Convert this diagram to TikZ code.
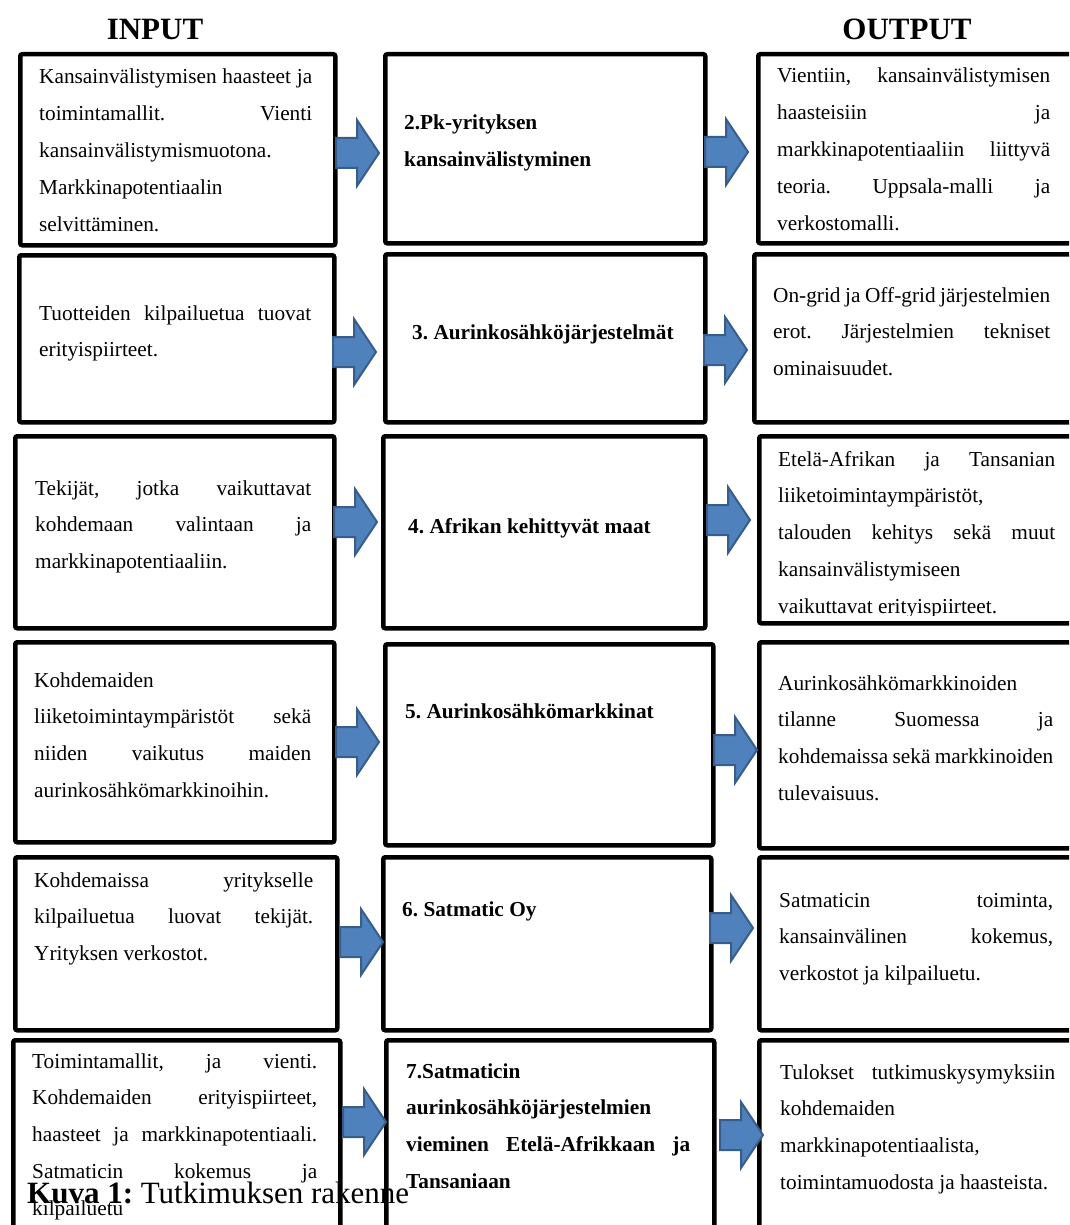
\documentclass[tikz,border=0pt]{standalone}
\usepackage{fontspec}
\setmainfont{Liberation Serif}
\definecolor{arrowfill}{HTML}{4F81BD}
\definecolor{arrowline}{HTML}{385D8A}
\newcommand\jl[1]{{\frenchspacing\spaceskip=0pt\xspaceskip=0pt\makebox[\linewidth][s]{#1}}}
\newcommand\blockarrow[1]{\draw[barrow] (#1) ++(0,-15) -- ++(21,0) -- ++(0,-18) -- ++(22,33) -- ++(-22,33) -- ++(0,-18) -- ++(-21,0) -- cycle;}
\begin{document}
\begin{tikzpicture}[x=1pt,y=-1pt,
  box/.style={draw=black, line width=4.5pt, rounded corners=2pt, anchor=north west, inner sep=0pt},
  txt/.style={anchor=base west, inner sep=0pt, align=left, font=\fontsize{21.3}{36.8}\selectfont,
    execute at begin node={\frenchspacing\spaceskip=0pt\xspaceskip=0pt}},
  btxt/.style={txt, font=\fontsize{21.3}{36.8}\selectfont\bfseries},
  title/.style={anchor=base, inner sep=0pt, font=\fontsize{31}{36}\selectfont\bfseries},
  barrow/.style={fill=arrowfill, draw=arrowline, line width=2pt, line join=miter}
]
\useasboundingbox (0,0) rectangle (1069,1225);
\clip (0,0) rectangle (1069,1225);

% titles
\node[title] (tin) at (155,40) {INPUT};
\node[title] (tout) at (907,40) {OUTPUT};

% boxes
\node[box, minimum width=315, minimum height=191] (L1) at (18,52) {};
\node[box, minimum width=320, minimum height=189] (M1) at (383,52) {};
\node[box, minimum width=319, minimum height=189] (R1) at (756,52) {};

\node[box, minimum width=315, minimum height=167] (L2) at (17,253) {};
\node[box, minimum width=320, minimum height=168] (M2) at (383,252) {};
\node[box, minimum width=323, minimum height=168] (R2) at (752,252) {};

\node[box, minimum width=319, minimum height=192] (L3) at (13,434) {};
\node[box, minimum width=322, minimum height=192] (M3) at (381,434) {};
\node[box, minimum width=318, minimum height=187] (R3) at (757,434) {};

\node[box, minimum width=319, minimum height=200] (L4) at (13,640) {};
\node[box, minimum width=328, minimum height=201] (M4) at (383,642) {};
\node[box, minimum width=318, minimum height=206] (R4) at (757,640) {};

\node[box, minimum width=322, minimum height=173] (L5) at (13,855) {};
\node[box, minimum width=328, minimum height=173] (M5) at (381,855) {};
\node[box, minimum width=318, minimum height=173] (R5) at (757,855) {};

\node[box, minimum width=327, minimum height=200] (L6) at (11,1038) {};
\node[box, minimum width=328, minimum height=200] (M6) at (384,1038) {};
\node[box, minimum width=318, minimum height=200] (R6) at (757,1038) {};

% texts row 1
\node[txt, text width=273] (tL1) at (39,84) {\jl{Kansainvälistymisen haasteet ja}\\ \jl{toimintamallit. Vienti}\\ kansainvälistymismuotona.\\ Markkinapotentiaalin\\ selvittäminen.};
\node[btxt, text width=280] (tM1) at (404,130) {2.Pk-yrityksen\\ kansainvälistyminen};
\node[txt, text width=273] (tR1) at (777,83) {\jl{Vientiin, kansainvälistymisen}\\ \jl{haasteisiin ja}\\ \jl{markkinapotentiaaliin liittyvä}\\ \jl{teoria. Uppsala-malli ja}\\ verkostomalli.};

% row 2
\node[txt, text width=272] (tL2) at (39,320) {\jl{Tuotteiden kilpailuetua tuovat}\\ erityispiirteet.};
\node[btxt] (tM2) at (412,339) {3. Aurinkosähköjärjestelmät};
\node[txt, text width=277] (tR2) at (773,302) {\jl{On-grid ja Off-grid järjestelmien}\\ \jl{erot. Järjestelmien tekniset}\\ ominaisuudet.};

% row 3
\node[txt, text width=276] (tL3) at (35,495) {\jl{Tekijät, jotka vaikuttavat}\\ \jl{kohdemaan valintaan ja}\\ markkinapotentiaaliin.};
\node[btxt] (tM3) at (408,533) {4. Afrikan kehittyvät maat};
\begin{scope}
\clip (757,434) rectangle (1075,615);
\node[txt, text width=277] (tR3) at (778,466) {\jl{Etelä-Afrikan ja Tansanian}\\ liiketoimintaympäristöt,\\ \jl{talouden kehitys sekä muut}\\ kansainvälistymiseen\\ vaikuttavat erityispiirteet.};
\end{scope}

% row 4
\node[txt, text width=277] (tL4) at (34,687) {Kohdemaiden\\ \jl{liiketoimintaympäristöt sekä}\\ \jl{niiden vaikutus maiden}\\ aurinkosähkömarkkinoihin.};
\node[btxt] (tM4) at (405,718) {5. Aurinkosähkömarkkinat};
\node[txt, text width=275] (tR4) at (778,690) {Aurinkosähkömarkkinoiden\\ \jl{tilanne Suomessa ja}\\ \jl{kohdemaissa sekä markkinoiden}\\ tulevaisuus.};

% row 5
\node[txt, text width=279] (tL5) at (34,887) {\jl{Kohdemaissa yritykselle}\\ \jl{kilpailuetua luovat tekijät.}\\ Yrityksen verkostot.};
\node[btxt] (tM5) at (402,916) {6. Satmatic Oy};
\node[txt, text width=274] (tR5) at (779,907) {\jl{Satmaticin toiminta,}\\ \jl{kansainvälinen kokemus,}\\ verkostot ja kilpailuetu.};

% row 6
\node[txt, text width=285] (tL6) at (32,1068) {\jl{Toimintamallit, ja vienti.}\\ \jl{Kohdemaiden erityispiirteet,}\\ \jl{haasteet ja markkinapotentiaali.}\\ \jl{Satmaticin kokemus ja}\\ kilpailuetu};
\node[btxt, text width=284] (tM6) at (406,1078) {7.Satmaticin\\ aurinkosähköjärjestelmien\\ \jl{vieminen Etelä-Afrikkaan ja}\\ Tansaniaan};
\node[txt, text width=275] (tR6) at (780,1079) {\jl{Tulokset tutkimuskysymyksiin}\\ kohdemaiden\\ markkinapotentiaalista,\\ toimintamuodosta ja haasteista.};

% arrows
\coordinate (aL1) at (336,153);
\coordinate (aL2) at (333,352);
\coordinate (aL3) at (334,522);
\coordinate (aL4) at (336,742);
\coordinate (aL5) at (340,942);
\coordinate (aL6) at (343,1122);
\coordinate (aR1) at (705,152);
\coordinate (aR2) at (704,350);
\coordinate (aR3) at (707,520);
\coordinate (aR4) at (714,750);
\coordinate (aR5) at (710,928);
\coordinate (aR6) at (720,1135);
\blockarrow{aL1}\blockarrow{aL2}\blockarrow{aL3}\blockarrow{aL4}\blockarrow{aL5}\blockarrow{aL6}
\blockarrow{aR1}\blockarrow{aR2}\blockarrow{aR3}\blockarrow{aR4}\blockarrow{aR5}\blockarrow{aR6}

% caption
\node[anchor=base west, inner sep=0pt, font=\fontsize{31}{36}\selectfont] (cap) at (27,1203) {\frenchspacing\textbf{Kuva 1:} Tutkimuksen rakenne};
\end{tikzpicture}
\end{document}
